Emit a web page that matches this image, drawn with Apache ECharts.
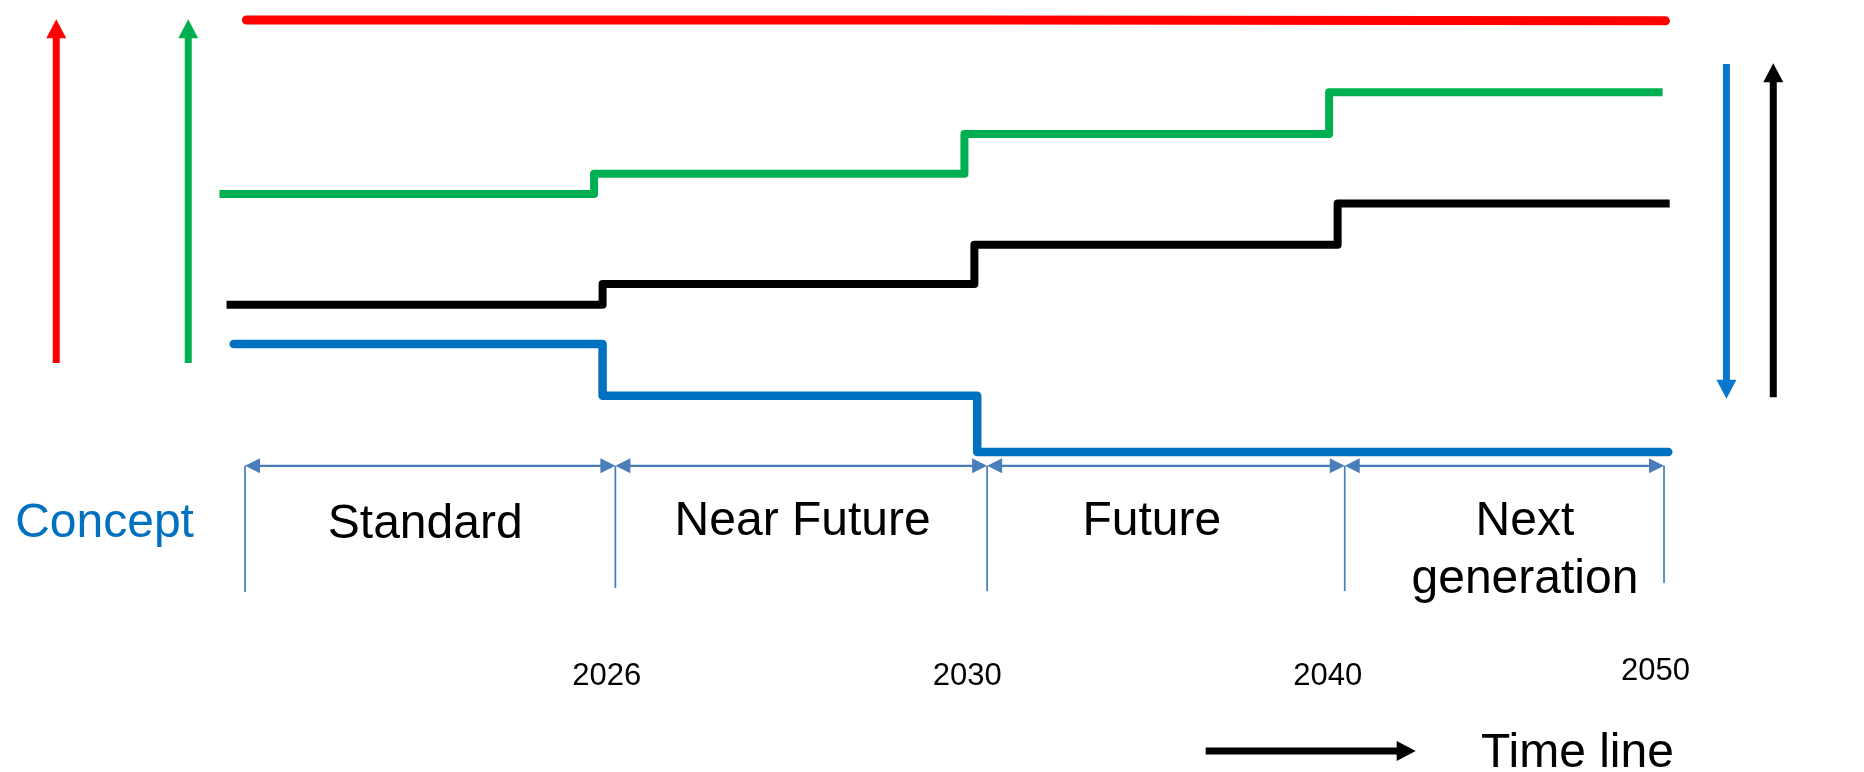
<!DOCTYPE html>
<html><head><meta charset="utf-8">
<script src="https://cdn.jsdelivr.net/npm/echarts@6/dist/echarts.min.js"></script>
<style>html,body{margin:0;padding:0;background:#fff}#c{width:1864px;height:772px}</style>
</head><body><div id="c"></div>
<script>
// x: position along the time line (0 = start, 100 = 2050); y: relative level (blue floor = 0, red = 100)
const phases = ['Standard', 'Near Future', 'Future', 'Next\ngeneration'];
const phaseLabelX = [12.7, 39.3, 63.9, 90.2];
const phaseLabelY = [-16.8, -16.2, -16.2, -22.9];
const boundaryX = [0, 26.1, 52.3, 77.5, 100];
const tickBottomY = [-32.4, -31.5, -32.2, -32.2, -30.3];
const timelineY = -3.2;
const yearLabels = ['2026', '2030', '2040', '2050'];
const yearLabelX = [25.5, 50.9, 76.3, 99.4];
const yearLabelY = [-51.9, -51.9, -51.9, -50.9];

const redLine   = [[0.1, 100], [52.2, 99.8], [100.1, 99.8]];
const greenLine = [[-1.8, 59.7], [24.6, 64.4], [50.7, 73.6], [76.4, 83.3], [99.9, 83.3]];
const blackLine = [[-1.3, 34.1], [25.2, 38.9], [51.4, 48.0], [77.0, 57.5], [100.4, 57.5]];
const blueLine  = [[-0.8, 25.0], [25.2, 13.0], [51.6, 0.0], [100.3, 0.0]];

// side arrows: [x, fromY, x, toY]
const redArrow   = [-13.3, 20.6, -13.3, 100.2];
const greenArrow = [-4.0, 20.6, -4.0, 100.2];
const blueArrow  = [104.4, 89.8, 104.4, 12.3];
const blackArrow = [107.7, 12.7, 107.7, 90.0];

const conceptLabel = { text: 'Concept', x: -9.9, y: -16.7 };
const timeLineLabel = { text: 'Time line', x: 93.9, y: -69.9 };
const timeLineArrow = [67.7, -69.2, 82.5, -69.2];

const FONT = '"Liberation Sans", Arial, sans-serif';

function arrowSeries(name, data, color, width, headW, headL, heads) {
  return {
    type: 'custom', name, silent: true, clip: false, data,
    renderItem(params, api) {
      const p1 = api.coord([api.value(0), api.value(1)]);
      const p2 = api.coord([api.value(2), api.value(3)]);
      const dx = p2[0] - p1[0], dy = p2[1] - p1[1];
      const len = Math.hypot(dx, dy) || 1;
      const ux = dx / len, uy = dy / len, nx = -uy, ny = ux;
      const children = [];
      let a = p1, b = p2;
      function head(tip, dx2, dy2) {
        const bx = tip[0] - dx2 * headL, by = tip[1] - dy2 * headL;
        return { type: 'polygon', shape: { points: [[tip[0], tip[1]], [bx + nx * headW / 2, by + ny * headW / 2], [bx - nx * headW / 2, by - ny * headW / 2]] }, style: { fill: color } };
      }
      if (heads[0]) { a = [p1[0] + ux * (headL - 1), p1[1] + uy * (headL - 1)]; children.push(head(p1, -ux, -uy)); }
      if (heads[1]) { b = [p2[0] - ux * (headL - 1), p2[1] - uy * (headL - 1)]; children.push(head(p2, ux, uy)); }
      children.unshift({ type: 'line', shape: { x1: a[0], y1: a[1], x2: b[0], y2: b[1] }, style: { stroke: color, lineWidth: width } });
      return { type: 'group', children };
    }
  };
}

function stepSeries(name, data, color, width, cap) {
  return {
    type: 'line', name, data, step: 'end', symbol: 'none', silent: true, clip: false,
    lineStyle: { color, width, cap, join: 'round', opacity: 1 }
  };
}

function textSeries(name, items, size, color, lineHeight) {
  return {
    type: 'scatter', name, silent: true, symbolSize: 0, clip: false,
    itemStyle: { opacity: 1 },
    data: items.map(d => ({ name: d.text, value: [d.x, d.y] })),
    label: { show: true, position: 'inside', formatter: '{b}', fontSize: size, color, opacity: 1, fontFamily: FONT, lineHeight: lineHeight || size * 1.2, align: 'center', verticalAlign: 'middle' }
  };
}

const timelineSegments = [];
for (let i = 0; i < boundaryX.length - 1; i++) timelineSegments.push([boundaryX[i], timelineY, boundaryX[i + 1], timelineY]);
const tickSegments = boundaryX.map((x, i) => [x, timelineY, x, tickBottomY[i]]);

const chart = echarts.init(document.getElementById('c'), null, { renderer: 'canvas' });
chart.setOption({
  animation: false,
  backgroundColor: '#ffffff',
  grid: { left: 3.77, top: 2.72, width: 1858.9, height: 768.96, containLabel: false },
  xAxis: { type: 'value', min: -17, max: 114, show: false },
  yAxis: { type: 'value', min: -74, max: 104, show: false },
  series: [
    stepSeries('red', redLine, '#FF0000', 9, 'round'),
    stepSeries('green', greenLine, '#00B050', 8, 'butt'),
    stepSeries('black', blackLine, '#000000', 8, 'butt'),
    stepSeries('blue', blueLine, '#0070C0', 8.5, 'round'),
    arrowSeries('redArrow', [redArrow], '#FF0000', 7, 20, 19, [false, true]),
    arrowSeries('greenArrow', [greenArrow], '#00B050', 7, 20, 19, [false, true]),
    arrowSeries('blueArrow', [blueArrow], '#0A77CF', 7, 20, 19, [false, true]),
    arrowSeries('blackArrow', [blackArrow], '#000000', 7, 20, 19, [false, true]),
    arrowSeries('timeline', timelineSegments, '#4A7EBB', 2.25, 15, 15, [true, true]),
    arrowSeries('ticks', tickSegments, '#4A7EBB', 1.75, 0, 0, [false, false]),
    arrowSeries('timeLineArrow', [timeLineArrow], '#000000', 7, 20, 19, [false, true]),
    textSeries('phases', phases.map((t, i) => ({ text: t, x: phaseLabelX[i], y: phaseLabelY[i] })), 48, '#000000', 58),
    textSeries('years', yearLabels.map((t, i) => ({ text: t, x: yearLabelX[i], y: yearLabelY[i] })), 31, '#000000'),
    textSeries('concept', [conceptLabel], 48, '#0070C0'),
    textSeries('timeLineText', [timeLineLabel], 48, '#000000')
  ]
});
</script>
</body></html>
